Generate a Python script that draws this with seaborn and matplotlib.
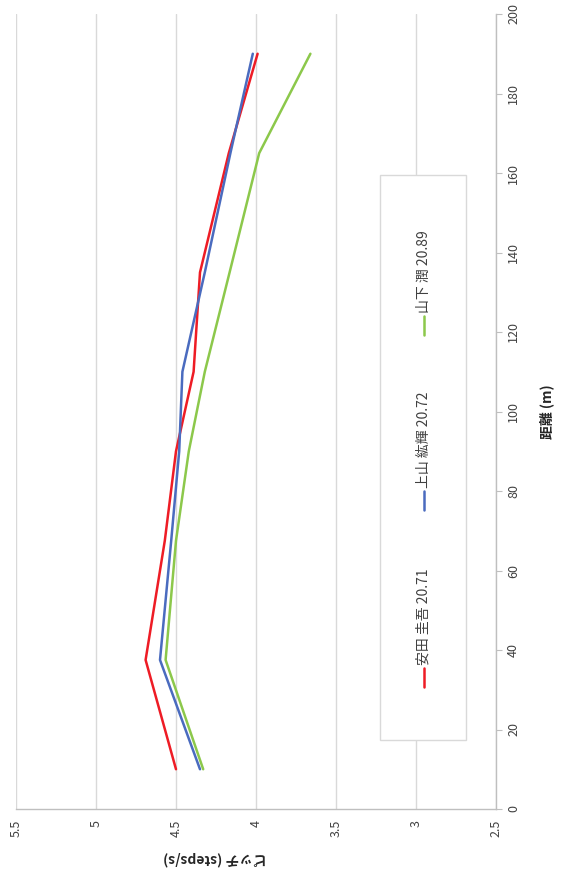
import matplotlib
matplotlib.use("Agg")
import matplotlib.pyplot as plt
import seaborn as sns
import pandas as pd
from matplotlib.lines import Line2D
from matplotlib.patches import Rectangle

# data read from the (rotated) reference chart
distance = [10, 37.5, 67.5, 90, 110, 135, 165, 190]
yasuda = [4.50, 4.69, 4.57, 4.50, 4.39, 4.35, 4.17, 3.99]
kamiyama = [4.35, 4.60, 4.53, 4.48, 4.46, 4.32, 4.16, 4.02]
yamashita = [4.33, 4.565, 4.50, 4.42, 4.32, 4.165, 3.98, 3.66]
names = ["安田 圭吾 20.71", "上山 紘輝 20.72", "山下 潤 20.89"]
colors = ["#ee1c25", "#4a6bbf", "#8cc84b"]
pitch_ticks = [5.5, 5, 4.5, 4, 3.5, 3, 2.5]
dist_ticks = [0, 20, 40, 60, 80, 100, 120, 140, 160, 180, 200]

sns.set_style("white")
plt.rcParams['font.family'] = ['Noto Sans CJK JP', 'DejaVu Sans']

rows = []
for name, vals in zip(names, [yasuda, kamiyama, yamashita]):
    for d, p in zip(distance, vals):
        rows.append({"runner": name, "distance": d, "pitch": p})
df = pd.DataFrame(rows)

fig = plt.figure(figsize=(5.71, 8.73), dpi=100)
ax = fig.add_axes([16 / 571, 64 / 873, 480 / 571, 795 / 873])

# chart is drawn rotated 90 degrees: pitch runs right-to-left, distance bottom-to-top
sns.lineplot(data=df, x="pitch", y="distance", hue="runner", palette=colors,
             sort=False, estimator=None, linewidth=1.8, legend=False, ax=ax)

ax.set_xlim(5.5, 2.5)
ax.set_ylim(0, 200)
ax.set_xticks(pitch_ticks)
ax.set_xticklabels([str(t) for t in pitch_ticks], rotation=90, fontsize=9, color="#404040")
ax.set_yticks(dist_ticks)
ax.set_yticklabels([str(t) for t in dist_ticks], rotation=90, fontsize=9, color="#404040",
                   va="center")
ax.yaxis.tick_right()
ax.tick_params(axis="both", length=4, color="#bfbfbf", direction="out", pad=4)
ax.xaxis.grid(True, color="#d9d9d9", linewidth=1)
ax.yaxis.grid(False)
for s in ["top", "left"]:
    ax.spines[s].set_visible(False)
for s in ["right", "bottom"]:
    ax.spines[s].set_color("#bfbfbf")
    ax.spines[s].set_linewidth(1)
ax.set_xlabel("")
ax.set_ylabel("")

fig.text(215 / 571, 1 - 858 / 873, "ピッチ (steps/s)", rotation=180, ha="center", va="center",
         fontsize=10, fontweight="bold", color="#262626")
fig.text(547 / 571, 1 - 412 / 873, "距離 (m)", rotation=90, ha="center", va="center",
         fontsize=10, fontweight="bold", color="#262626")

# hand-built rotated legend
fig.patches.append(Rectangle((380 / 571, 1 - 740 / 873), 86 / 571, 565 / 873,
                             transform=fig.transFigure, facecolor="white",
                             edgecolor="#d9d9d9", linewidth=1, zorder=5))
legend_starts = [687, 510, 335]
for name, col, y0 in zip(names, colors, legend_starts):
    fig.lines.append(Line2D([424 / 571, 424 / 571], [1 - y0 / 873, 1 - (y0 - 19) / 873],
                            transform=fig.transFigure, color=col, linewidth=1.8, zorder=6))
    fig.text(424 / 571, 1 - (y0 - 22) / 873, name, rotation=90, ha="center", va="bottom",
             fontsize=10, color="#404040", zorder=6)

fig.savefig("out.png", dpi=100)
